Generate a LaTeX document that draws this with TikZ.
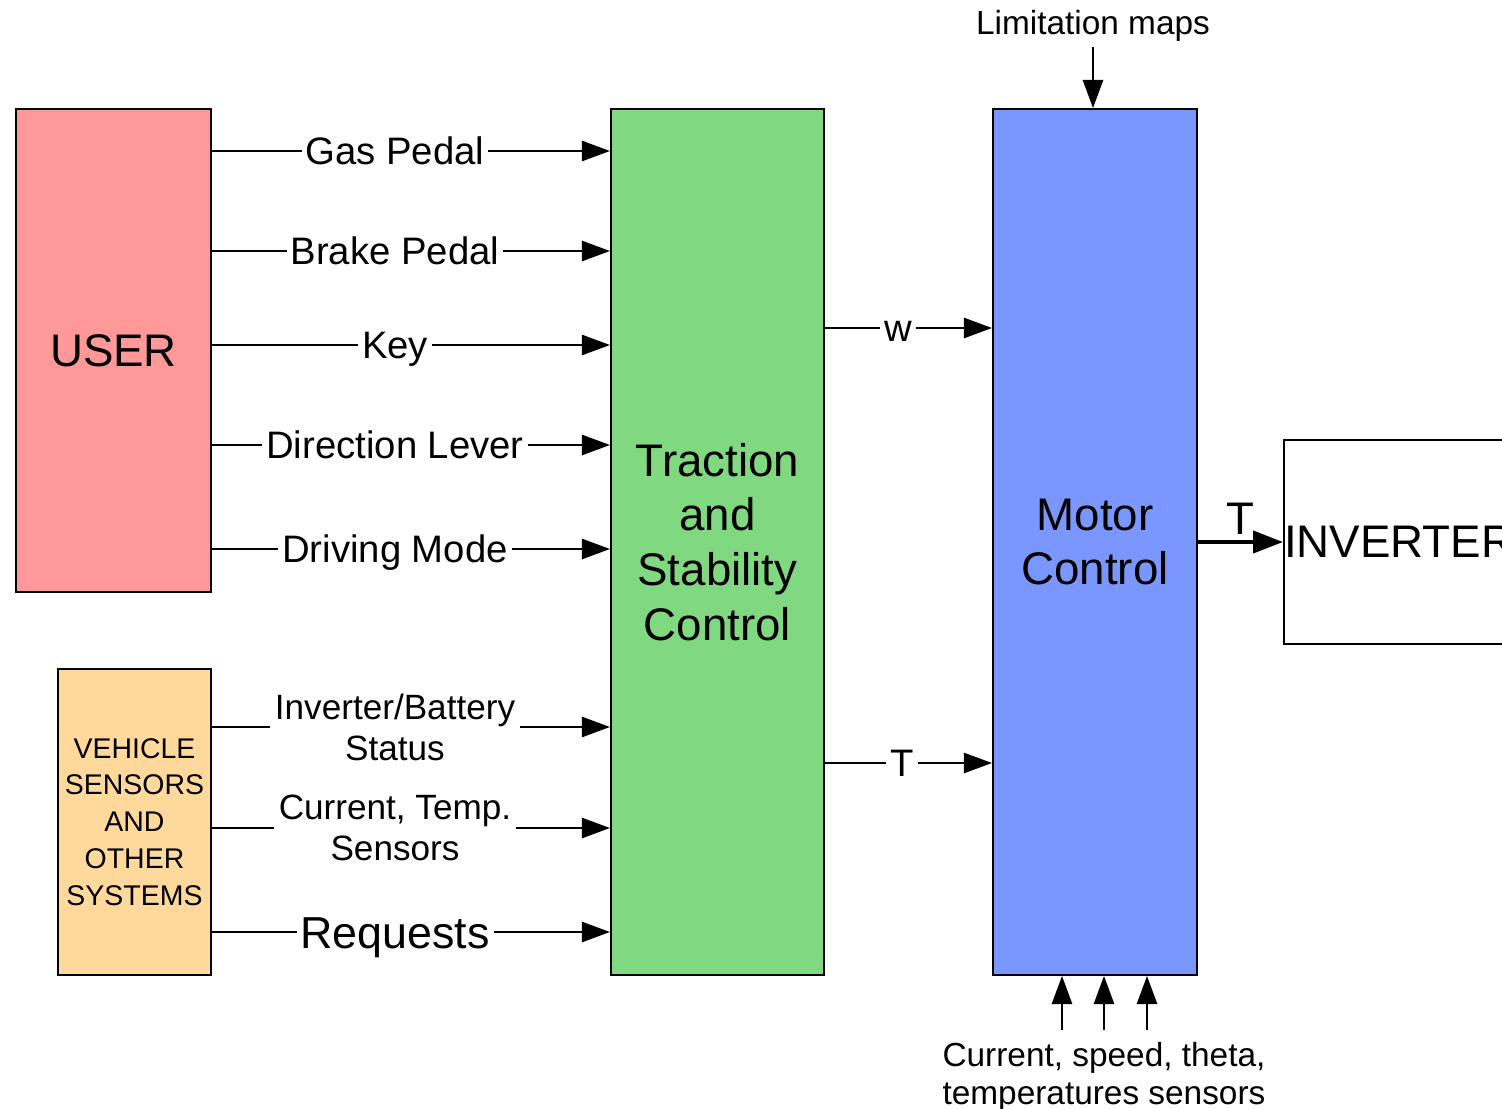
\documentclass[tikz,border=0pt]{standalone}
\usepackage{fontspec}
\setmainfont{Liberation Sans}
\usetikzlibrary{arrows.meta, positioning, calc}
\definecolor{userpink}{RGB}{255, 153, 153}
\definecolor{sensorbeige}{RGB}{255, 217, 155}
\definecolor{tscgreen}{RGB}{128, 217, 128}
\definecolor{motorblue}{RGB}{122, 150, 255}

\begin{document}
\begin{tikzpicture}[x=0.02cm, y=-0.02cm,
  box/.style={draw, line width=1.2pt, align=center, inner sep=0pt},
  bigfont/.style={font=\fontsize{26}{31.2}\selectfont},
  lbl/.style={inner xsep=2pt, inner ysep=0pt, text height=15.6pt, text depth=0pt, font=\fontsize{21.8}{26}\selectfont},
  lbltwo/.style={align=center, inner xsep=2.5pt, inner ysep=0pt, font=\fontsize{20}{23.3}\selectfont},
  smalltxt/.style={font=\fontsize{19}{21.5}\selectfont},
  wire/.style={line width=1.2pt},
  arr/.style={wire, -{Triangle[length=16pt, width=11.5pt]}},
  thickarr/.style={line width=2.3pt, -{Triangle[length=17pt, width=12.5pt]}}]
  \useasboundingbox (0,0) rectangle (1502,1109);
  \clip (0,0) rectangle (1502,1109);

  \node[box, bigfont, fill=userpink, minimum width=3.9cm, minimum height=9.66cm] (user) at (113.5,350.5) {USER};
  \node[box, fill=sensorbeige, minimum width=3.06cm, minimum height=6.12cm, font=\fontsize{16.2}{21}\selectfont] (veh) at (134.5,822) {VEHICLE\\SENSORS\\AND\\OTHER\\SYSTEMS};
  \node[box, bigfont, fill=tscgreen, minimum width=4.26cm, minimum height=17.32cm] (tsc) at (717.5,542) {Traction\\and\\Stability\\Control};
  \node[box, bigfont, fill=motorblue, minimum width=4.08cm, minimum height=17.32cm] (motor) at (1095,542) {Motor\\Control};
  \node[box, bigfont, anchor=west, minimum height=4.08cm, text width=6cm, align=left] (inv) at (1283,542) {INVERTER};

  \node[lbl] (gas) at (395,151) {Gas Pedal};
  \node[lbl] (brake) at (395,251) {Brake Pedal};
  \node[lbl] (key) at (395,345) {Key};
  \node[lbl] (dir) at (395,445) {Direction Lever};
  \node[lbl] (mode) at (395,549) {Driving Mode};
  \node[lbltwo] (status) at (395,727) {Inverter/Battery\\Status};
  \node[lbltwo] (temp) at (395,828) {Current, Temp.\\Sensors};
  \node[lbl, font=\fontsize{25.5}{30}\selectfont, text height=18.3pt] (req) at (395,932) {Requests};
  \node[lbl] (w) at (898,328) {w};
  \node[lbl] (tq) at (902,763) {T};

  \foreach \s/\src in {gas/user, brake/user, key/user, dir/user, mode/user, status/veh, temp/veh, req/veh}{
    \draw[wire] (\src.east |- \s) -- (\s);
    \draw[arr] (\s) -- (tsc.west |- \s);
  }
  \foreach \s in {w, tq}{
    \draw[wire] (tsc.east |- \s) -- (\s);
    \draw[arr] (\s) -- (motor.west |- \s);
  }

  \draw[thickarr] (motor) -- node[above, bigfont, inner ysep=3pt, text depth=0pt] (tinv) {T} (inv);

  \node[smalltxt, inner sep=3pt] (lim) at (1093,26) {Limitation maps};
  \draw[arr] (lim) -- (lim |- motor.north);

  \node[smalltxt, align=center, anchor=north, inner sep=0pt] (sens) at (1104,1042) {Current, speed, theta,\\temperatures sensors};
  \foreach \dx/\n in {-42/a, 0/b, 43/c}{
    \coordinate (sn\n) at ($(sens.north)+(\dx,-12)$);
    \draw[arr] (sn\n) -- (sn\n |- motor.south);
  }
\end{tikzpicture}
\end{document}
